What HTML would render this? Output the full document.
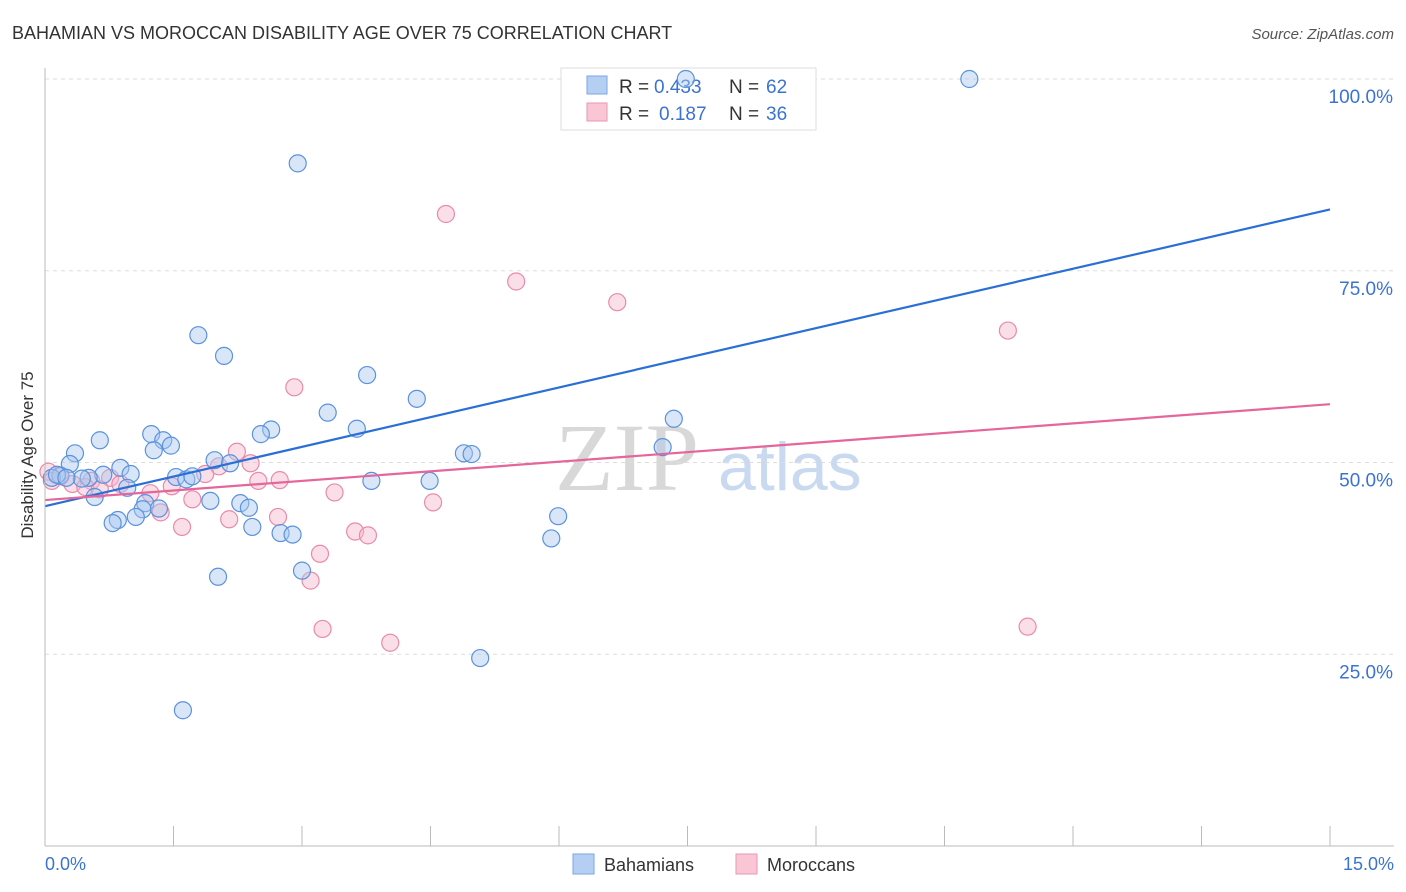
<!DOCTYPE html>
<html><head><meta charset="utf-8"><style>
body{margin:0;background:#fff;font-family:"Liberation Sans",sans-serif}
#wrap{position:relative;width:1406px;height:892px;overflow:hidden}
</style></head><body>
<div id="wrap">
<svg id="svg" width="1406" height="892" xmlns="http://www.w3.org/2000/svg">
<text x="12" y="39" font-size="18" fill="#333">BAHAMIAN VS MOROCCAN DISABILITY AGE OVER 75 CORRELATION CHART</text>
<text x="1394" y="39" font-size="15" fill="#555" text-anchor="end" font-style="italic">Source: ZipAtlas.com</text>
<text x="33" y="455" font-size="17" fill="#333" text-anchor="middle" transform="rotate(-90 33 455)">Disability Age Over 75</text>
<text x="555" y="490" font-size="96" fill="#d8d8d8" font-family="Liberation Serif,serif">ZIP</text>
<text x="718" y="490" font-size="68" fill="#c9daf0">atlas</text>
<g id="grid"></g>
<g>
<rect x="561" y="68" width="255" height="62" fill="#fff" stroke="#ddd"/>
<rect x="587" y="76" width="20" height="18" fill="#b5cff3" stroke="#7aa5e5"/>
<rect x="587" y="103" width="20" height="18" fill="#f9c6d6" stroke="#eb96b2"/>
<text x="619" y="93" font-size="19" fill="#333">R =</text>
<text x="654" y="93" font-size="19" fill="#3b73d1">0.433</text>
<text x="729" y="93" font-size="19" fill="#333">N =</text>
<text x="766" y="93" font-size="19" fill="#3b73d1">62</text>
<text x="619" y="120" font-size="19" fill="#333">R =</text>
<text x="659" y="120" font-size="19" fill="#3b73d1">0.187</text>
<text x="729" y="120" font-size="19" fill="#333">N =</text>
<text x="766" y="120" font-size="19" fill="#3b73d1">36</text>
</g>
<g id="pts"></g><g id="lines"></g>
<line x1="45" y1="68" x2="45" y2="846" stroke="#bbb"/>
<line x1="45" y1="846" x2="1394" y2="846" stroke="#bbb"/>
<text x="45" y="870" font-size="18" fill="#3b73d1">0.0%</text>
<text x="1394" y="870" font-size="18" fill="#3b73d1" text-anchor="end">15.0%</text>
<g>
<rect x="573" y="854" width="21" height="20" fill="#b5cff3" stroke="#7aa5e5"/>
<text x="604" y="871" font-size="18" fill="#333">Bahamians</text>
<rect x="736" y="854" width="21" height="20" fill="#f9c6d6" stroke="#eb96b2"/>
<text x="767" y="871" font-size="18" fill="#333">Moroccans</text>
</g>
</svg></div>
<script>
const yTicks=[25,50,75,100];
const xTicks=[0,1.5,3,4.5,6,7.5,9,10.5,12,13.5,15];
const blueX=[2.95,10.79,7.48,1.79,2.09,3.76,4.34,3.30,7.34,3.64,2.64,2.52,1.24,1.38,1.47,0.64,1.27,4.89,4.98,7.21,0.35,0.29,1.98,2.16,0.88,1.00,0.68,0.51,0.18,0.08,0.14,1.53,1.65,1.72,3.81,4.49,0.96,0.58,1.93,2.28,2.38,1.17,1.14,1.33,1.06,0.85,0.79,2.42,2.75,2.89,5.99,5.91,3.00,2.02,5.08,1.61,0.43,0.25];
const blueY=[89.0,100,100,66.6,63.9,61.4,58.3,56.5,55.7,54.4,54.3,53.7,53.7,52.9,52.2,52.9,51.6,51.2,51.1,52.0,51.2,49.8,50.3,49.9,49.3,48.5,48.4,48.0,48.3,48.0,48.4,48.1,47.8,48.2,47.6,47.6,46.7,45.5,45.0,44.7,44.1,44.7,43.9,44.0,42.9,42.5,42.1,41.6,40.8,40.6,43.0,40.1,35.9,35.1,24.5,17.7,47.9,48.0];
const pinkX=[4.68,5.50,6.68,11.24,2.91,2.24,2.40,2.03,1.87,2.49,2.74,0.04,0.08,0.18,0.32,0.54,0.76,0.88,1.23,1.48,1.72,1.35,1.60,2.15,2.72,3.38,4.53,3.62,3.77,3.21,3.10,3.24,4.03,11.47,0.47,0.64];
const pinkY=[82.4,73.6,70.9,67.2,59.8,51.4,49.9,49.5,48.5,47.6,47.7,48.8,47.6,48.2,47.2,47.6,48.0,47.2,46.0,46.9,45.2,43.5,41.6,42.6,42.9,46.1,44.8,41.0,40.5,38.1,34.6,28.3,26.5,28.6,46.8,46.5];
const blueFit=[44.3,83.0], pinkFit=[45.1,57.6];
const X=v=>45+v/15*1285, Y=v=>846-v/100*767;
const NS="http://www.w3.org/2000/svg";
const grid=document.getElementById('grid'),pts=document.getElementById('pts'),lines=document.getElementById('lines'),svg=document.getElementById('svg');
yTicks.forEach(t=>{
const l=document.createElementNS(NS,'line');
l.setAttribute('x1',45);l.setAttribute('x2',1394);l.setAttribute('y1',Y(t));l.setAttribute('y2',Y(t));
l.setAttribute('stroke','#ddd');l.setAttribute('stroke-dasharray','4,4');


grid.appendChild(l);
const tx=document.createElementNS(NS,'text');
tx.setAttribute('x',1393);tx.setAttribute('y',Y(t)+24);tx.setAttribute('text-anchor','end');
tx.setAttribute('font-size','19');tx.setAttribute('fill','#3b73d1');tx.textContent=t.toFixed(1)+'%';


svg.appendChild(tx);
});
xTicks.forEach(t=>{
const l=document.createElementNS(NS,'line');
l.setAttribute('x1',X(t));l.setAttribute('x2',X(t));l.setAttribute('y1',826);l.setAttribute('y2',846);
l.setAttribute('stroke','#bbb');


grid.appendChild(l);
});
function dots(xs,ys,fill,stroke,name){
xs.forEach((x,i)=>{
const c=document.createElementNS(NS,'circle');
c.setAttribute('cx',X(x));c.setAttribute('cy',Y(ys[i]));c.setAttribute('r',8.5);
c.setAttribute('fill',fill);c.setAttribute('fill-opacity','0.45');c.setAttribute('stroke',stroke);c.setAttribute('stroke-width','1.2');


pts.appendChild(c);
});
}
dots(pinkX,pinkY,'#f7b8cc','#e98aab','moroccan-point');
dots(blueX,blueY,'#a9c8f0','#5b92dd','bahamian-point');
function fit(f,color,name){
const l=document.createElementNS(NS,'line');
l.setAttribute('x1',X(0));l.setAttribute('x2',X(15));l.setAttribute('y1',Y(f[0]));l.setAttribute('y2',Y(f[1]));
l.setAttribute('stroke',color);l.setAttribute('stroke-width','2.2');


lines.appendChild(l);
}
fit(blueFit,'#2a6fd6','bahamian-trendline');
fit(pinkFit,'#e4669a','moroccan-trendline');
</script>
</body></html>
